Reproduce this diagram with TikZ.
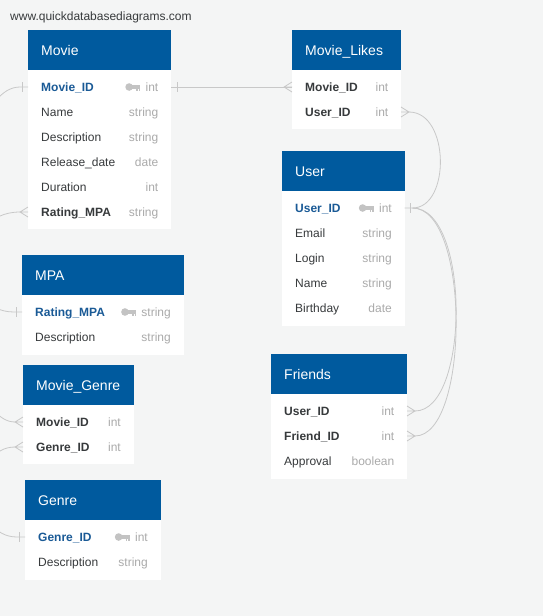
\documentclass[tikz,border=0pt]{standalone}
\usepackage{fontspec}
\setmainfont{Liberation Sans}
\usetikzlibrary{calc}
\definecolor{hdrblue}{RGB}{0,90,158}
\definecolor{pkblue}{RGB}{26,90,150}
\definecolor{txtdark}{RGB}{55,58,60}
\definecolor{typegray}{RGB}{170,170,170}
\definecolor{keygray}{RGB}{195,195,195}
\definecolor{bgcol}{RGB}{244,245,245}
\definecolor{conncol}{RGB}{200,200,200}
\tikzset{
  hdr/.style={fill=hdrblue, inner sep=0pt, minimum height=40pt},
  bodybox/.style={fill=white, inner sep=0pt},
  ttl/.style={text=white, inner sep=0pt, font=\fontsize{14pt}{16pt}\selectfont, text height=10pt, text depth=0pt},
  rowtxt/.style={text=txtdark, inner sep=0pt, font=\fontsize{12pt}{14pt}\selectfont, text height=8.6pt, text depth=0pt},
  typetxt/.style={text=typegray, inner sep=0pt, font=\fontsize{12pt}{14pt}\selectfont, text height=8.6pt, text depth=0pt},
  pk/.style={text=pkblue, font=\fontsize{12pt}{14pt}\selectfont\bfseries},
  fk/.style={text=txtdark, font=\fontsize{12pt}{14pt}\selectfont\bfseries},
  plainrow/.style={},
  conn/.style={draw=conncol, line width=0.8pt},
}
% table: id, x1, x2, ytop, ybottom, title
\newcommand{\ertable}[6]{%
  \node[hdr, minimum width={#3-#2}, anchor=north west] (#1) at (#2,#4) {};
  \node[bodybox, minimum width={#3-#2}, minimum height={#5-#4-40}, anchor=north west] (#1-body) at (#2,{#4+40}) {};
  \node[ttl, anchor=west] (#1-title) at ({#2+13},{#4+20}) {#6};
}
% row: id, x1, x2, y, name, type, style
\newcommand{\errow}[7]{%
  \node[rowtxt, #7, anchor=west] (#1) at ({#2+13},#4) {#5};
  \node[typetxt, anchor=east] (#1-ty) at ({#3-12.5},#4) {#6};
  \coordinate (#1-L) at (#2,#4);
  \coordinate (#1-R) at (#3,#4);
}
\newcommand{\erkey}[1]{%
  \fill[keygray] ($(#1-ty.west)+(-16.3,0)$) circle (3.8pt);
  \fill[keygray] ($(#1-ty.west)+(-15,-1.7)$) rectangle ($(#1-ty.west)+(-5,1.5)$);
  \fill[keygray] ($(#1-ty.west)+(-9.2,1.5)$) rectangle ($(#1-ty.west)+(-7.5,3.6)$);
  \fill[keygray] ($(#1-ty.west)+(-6.7,1.5)$) rectangle ($(#1-ty.west)+(-5,3.6)$);
}
\newcommand{\oneR}[1]{\draw[conn] ($(#1)+(6,-5)$) -- ($(#1)+(6,5)$);}
\newcommand{\oneL}[1]{\draw[conn] ($(#1)+(-6,-5)$) -- ($(#1)+(-6,5)$);}
\newcommand{\crowR}[1]{\draw[conn] ($(#1)+(0,-5)$) -- ($(#1)+(8,0)$) -- ($(#1)+(0,5)$) ($(#1)+(8,0)$) -- (#1);}
\newcommand{\crowL}[1]{\draw[conn] ($(#1)+(0,-5)$) -- ($(#1)+(-8,0)$) -- ($(#1)+(0,5)$) ($(#1)+(-8,0)$) -- (#1);}
\begin{document}
\begin{tikzpicture}[x=1pt,y=-1pt]
\fill[bgcol] (0,0) rectangle (543,616);
\useasboundingbox (0,0) rectangle (543,616);
\clip (0,0) rectangle (543,616);

\node[anchor=west, inner sep=0pt, text=txtdark, font=\fontsize{12pt}{14pt}\selectfont, text height=8.6pt, text depth=0pt] (wm) at (10,16) {www.quickdatabasediagrams.com};

% Movie
\ertable{movie}{28}{171}{30}{229}{Movie}
\errow{movie-id}{28}{171}{87}{Movie\_ID}{int}{pk}
\errow{movie-name}{28}{171}{112}{Name}{string}{plainrow}
\errow{movie-desc}{28}{171}{137}{Description}{string}{plainrow}
\errow{movie-rel}{28}{171}{162}{Release\_date}{date}{plainrow}
\errow{movie-dur}{28}{171}{187}{Duration}{int}{plainrow}
\errow{movie-rat}{28}{171}{212}{Rating\_MPA}{string}{fk}
\erkey{movie-id}

% Movie_Likes
\ertable{likes}{292}{401}{30}{129}{Movie\_Likes}
\errow{likes-mid}{292}{401}{87}{Movie\_ID}{int}{fk}
\errow{likes-uid}{292}{401}{112}{User\_ID}{int}{fk}

% User
\ertable{user}{282}{404.5}{151}{325.5}{User}
\errow{user-id}{282}{404.5}{208}{User\_ID}{int}{pk}
\errow{user-email}{282}{404.5}{233}{Email}{string}{plainrow}
\errow{user-login}{282}{404.5}{258}{Login}{string}{plainrow}
\errow{user-name}{282}{404.5}{283}{Name}{string}{plainrow}
\errow{user-bd}{282}{404.5}{308}{Birthday}{date}{plainrow}
\erkey{user-id}

% MPA
\ertable{mpa}{22}{183.5}{255}{354.5}{MPA}
\errow{mpa-rat}{22}{183.5}{312}{Rating\_MPA}{string}{pk}
\errow{mpa-desc}{22}{183.5}{337}{Description}{string}{plainrow}
\erkey{mpa-rat}

% Movie_Genre
\ertable{mg}{23}{133.5}{365}{464}{Movie\_Genre}
\errow{mg-mid}{23}{133.5}{422}{Movie\_ID}{int}{fk}
\errow{mg-gid}{23}{133.5}{447}{Genre\_ID}{int}{fk}

% Friends
\ertable{fr}{271}{407}{354}{478.5}{Friends}
\errow{fr-uid}{271}{407}{411}{User\_ID}{int}{fk}
\errow{fr-fid}{271}{407}{436}{Friend\_ID}{int}{fk}
\errow{fr-app}{271}{407}{461}{Approval}{boolean}{plainrow}

% Genre
\ertable{genre}{25}{160.5}{480}{579.5}{Genre}
\errow{genre-id}{25}{160.5}{537}{Genre\_ID}{int}{pk}
\errow{genre-desc}{25}{160.5}{562}{Description}{string}{plainrow}
\erkey{genre-id}

% Connectors
\draw[conn] (movie-id-R) -- (likes-mid-L);
\oneR{movie-id-R}
\crowL{likes-mid-L}

\draw[conn] ($(likes-uid-R)+(8,0)$) .. controls ($(likes-uid-R)+(49,0)$) and ($(user-id-R)+(46,0)$) .. ($(user-id-R)+(8,0)$) -- (user-id-R);
\crowR{likes-uid-R}
\oneR{user-id-R}

\draw[conn] ($(user-id-R)+(8,0)$) .. controls ($(user-id-R)+(66,0)$) and ($(fr-uid-R)+(63,0)$) .. ($(fr-uid-R)+(8,0)$);
\crowR{fr-uid-R}
\draw[conn] ($(user-id-R)+(8,0)$) .. controls ($(user-id-R)+(66,0)$) and ($(fr-fid-R)+(63,0)$) .. ($(fr-fid-R)+(8,0)$);
\crowR{fr-fid-R}

\draw[conn] (movie-id-L) -- ($(movie-id-L)+(-8,0)$) .. controls ($(movie-id-L)+(-83,0)$) and ($(mg-mid-L)+(-78,0)$) .. ($(mg-mid-L)+(-8,0)$);
\oneL{movie-id-L}
\crowL{mg-mid-L}

\draw[conn] ($(movie-rat-L)+(-8,0)$) .. controls ($(movie-rat-L)+(-71,0)$) and ($(mpa-rat-L)+(-65,0)$) .. ($(mpa-rat-L)+(-8,0)$) -- (mpa-rat-L);
\crowL{movie-rat-L}
\oneL{mpa-rat-L}

\draw[conn] ($(mg-gid-L)+(-8,0)$) .. controls ($(mg-gid-L)+(-53,0)$) and ($(genre-id-L)+(-55,0)$) .. ($(genre-id-L)+(-8,0)$) -- (genre-id-L);
\crowL{mg-gid-L}
\oneL{genre-id-L}
\end{tikzpicture}
\end{document}
